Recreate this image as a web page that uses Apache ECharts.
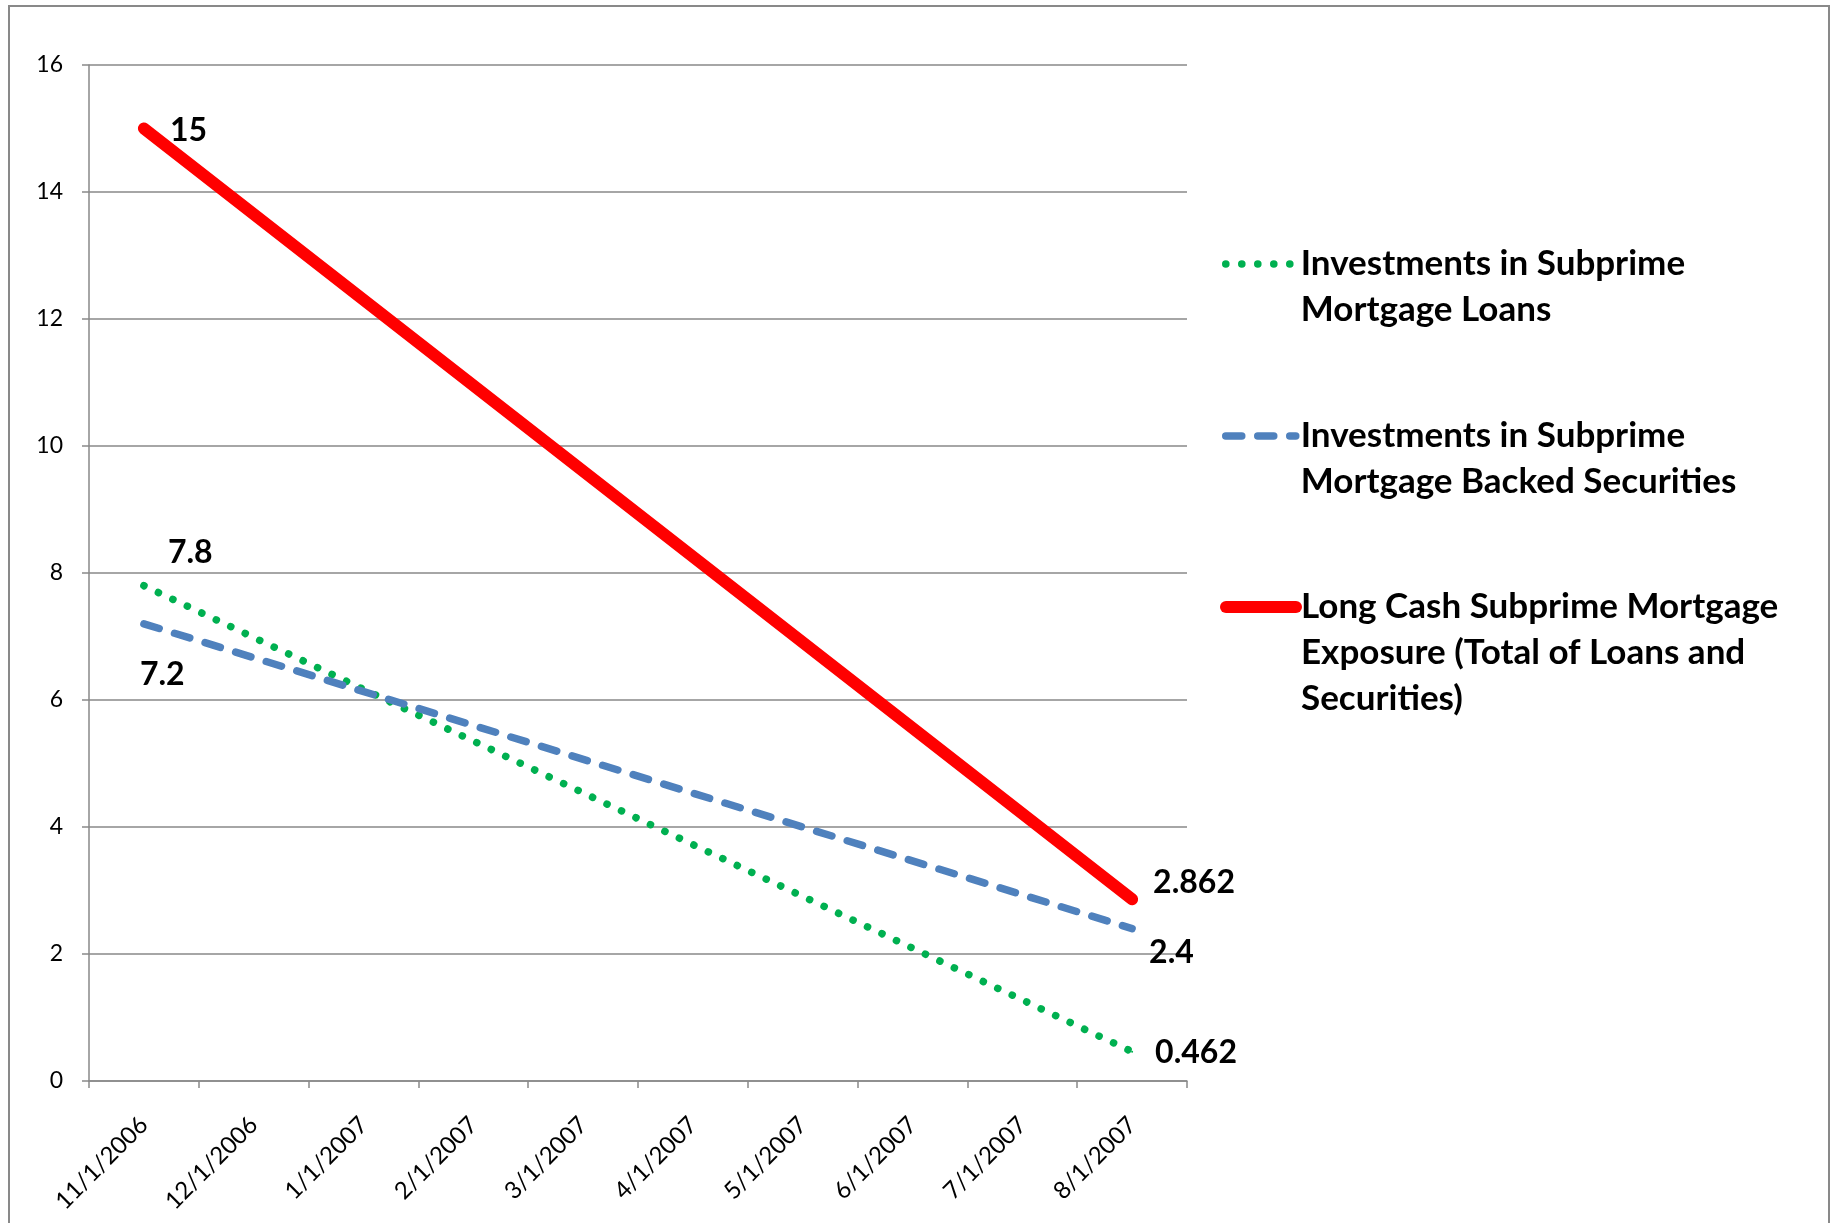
<!DOCTYPE html>
<html><head><meta charset="utf-8">
<script src="https://cdn.jsdelivr.net/npm/echarts@6/dist/echarts.min.js"></script>
<style>html,body{margin:0;padding:0;background:#fff}#c{width:1835px;height:1223px}</style>
</head><body><div id="c"></div>
<script>
// ---- data ----
const categories = ['11/1/2006','12/1/2006','1/1/2007','2/1/2007','3/1/2007','4/1/2007','5/1/2007','6/1/2007','7/1/2007','8/1/2007'];
const seriesNames = [
  'Investments in Subprime\nMortgage Loans',
  'Investments in Subprime\nMortgage Backed Securities',
  'Long Cash Subprime Mortgage\nExposure (Total of Loans and\nSecurities)'
];
const loansValues = [7.8, null, null, null, null, null, null, null, null, 0.462];
const mbsValues   = [7.2, null, null, null, null, null, null, null, null, 2.4];
const totalValues = [15,  null, null, null, null, null, null, null, null, 2.862];
const yMin = 0, yMax = 16, yInterval = 2;

// ---- styles ----
const colors = ['#00B050', '#4F81BD', '#FF0000'];
const labelOffsets = [
  {0: [23, -33], 9: [22, 1]},
  {0: [-5, 51], 9: [16, 24]},
  {0: [25, 2], 9: [20, -17]}
];
const lineStyles = [
  {width: 7.5, type: [0.1, 15.9], cap: 'round'},
  {width: 7.5, type: [16, 16], cap: 'round'},
  {width: 12, type: 'solid', cap: 'round'}
];
const legendPos = [
  {left: 1222, top: 195, lines: 2},
  {left: 1222, top: 367, lines: 2},
  {left: 1220, top: 492, lines: 3}
];
const LH = 46;
const gray = '#898989';
const FONT = 'Lato';

function buildData(values, offs) {
  return values.map((v, i) => v == null ? null : {value: v, label: {offset: offs[i] || [0, 0]}});
}
const allValues = [loansValues, mbsValues, totalValues];

const chart = echarts.init(document.getElementById('c'), null, {renderer: 'canvas'});
chart.setOption({
  animation: false,
  backgroundColor: '#fff',
  graphic: [{
    type: 'rect', silent: true, z: -10,
    shape: {x: 9, y: 6, width: 1820, height: 1240},
    style: {fill: 'transparent', stroke: gray, lineWidth: 2}
  }],
  grid: {left: 89, right: 648, top: 65, bottom: 142},
  xAxis: {
    type: 'category', data: categories, boundaryGap: true,
    axisLine: {show: true, lineStyle: {color: gray, width: 1.5}},
    axisTick: {show: true, length: 7, alignWithLabel: false, lineStyle: {color: gray, width: 1.5}},
    axisLabel: {interval: 0, rotate: 45, margin: 40, fontFamily: FONT, fontSize: 24, color: '#000'},
    splitLine: {show: false}
  },
  yAxis: {
    type: 'value', min: yMin, max: yMax, interval: yInterval,
    axisLine: {show: true, lineStyle: {color: gray, width: 1.5}},
    axisTick: {show: true, length: 7, lineStyle: {color: gray, width: 1.5}},
    axisLabel: {margin: 26, fontFamily: FONT, fontSize: 23, color: '#000'},
    splitLine: {show: true, lineStyle: {color: gray, width: 1.5}}
  },
  legend: legendPos.map((p, i) => ({
    data: [seriesNames[i]], orient: 'vertical', left: p.left, top: p.top, padding: 0,
    itemWidth: 70, itemHeight: 2, itemGap: 0, selectedMode: false,
    formatter: name => '\n'.repeat(p.lines - 1) + name,
    lineStyle: {width: 'inherit'}, itemStyle: {opacity: 0},
    textStyle: {fontFamily: FONT, fontWeight: 'bold', fontSize: 35, lineHeight: LH, color: '#000'}
  })),
  series: allValues.map((vals, i) => ({
    type: 'line', name: seriesNames[i],
    data: buildData(vals, labelOffsets[i]),
    connectNulls: true, symbol: 'circle', symbolSize: 2, showSymbol: true,
    lineStyle: Object.assign({color: colors[i]}, lineStyles[i]),
    itemStyle: {color: colors[i]},
    label: {show: true, position: 'right', distance: 0, fontFamily: FONT, fontWeight: 'bold', fontSize: 32, color: '#000'},
    emphasis: {disabled: true},
    z: 2 + i
  }))
});
</script></body></html>
